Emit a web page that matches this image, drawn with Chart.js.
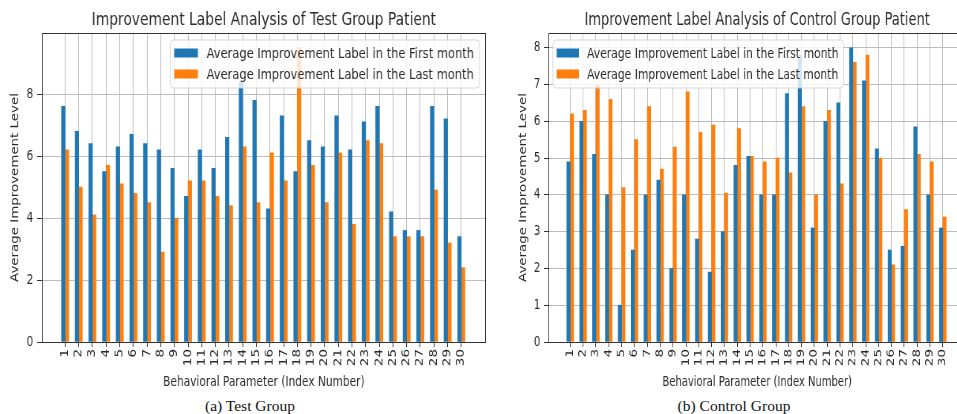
<!DOCTYPE html>
<html>
<head>
<meta charset="utf-8">
<script src="https://cdn.jsdelivr.net/npm/chart.js@4"></script>
<style>
  body { margin: 0; width: 957px; height: 414px; overflow: hidden; background: #fff; position: relative; }
  .panel { position: absolute; top: 0; width: 633px; height: 395px; transform-origin: 0 0; }
  .caption { position: absolute; top: 397px; font: 15.5px "Liberation Serif", serif; color: #111; transform: translateX(-50%); white-space: nowrap; }
</style>
</head>
<body>
<div class="panel" style="left:0; transform:scaleX(0.79)"><canvas id="testChart"></canvas></div>
<div class="panel" style="left:509px; transform:scaleX(0.743)"><canvas id="controlChart"></canvas></div>
<div class="caption" style="left:250px">(a) Test Group</div>
<div class="caption" style="left:734px">(b) Control Group</div>
<script>
// index numbers of the behavioural parameters
const categories = [1, 2, 3, 4, 5, 6, 7, 8, 9, 10, 11, 12, 13, 14, 15, 16, 17, 18, 19, 20, 21, 22, 23, 24, 25, 26, 27, 28, 29, 30];

// test group
const testFirst = [7.6, 6.8, 6.4, 5.5, 6.3, 6.7, 6.4, 6.2, 5.6, 4.7, 6.2, 5.6, 6.6, 8.4, 7.8, 4.3, 7.3, 5.5, 6.5, 6.3, 7.3, 6.2, 7.1, 7.6, 4.2, 3.6, 3.6, 7.6, 7.2, 3.4];
const testLast = [6.2, 5.0, 4.1, 5.7, 5.1, 4.8, 4.5, 2.9, 4.0, 5.2, 5.2, 4.7, 4.4, 6.3, 4.5, 6.1, 5.2, 9.5, 5.7, 4.5, 6.1, 3.8, 6.5, 6.4, 3.4, 3.4, 3.4, 4.9, 3.2, 2.4];

// control group
const controlFirst = [4.9, 6.0, 5.1, 4.0, 1.0, 2.5, 4.0, 4.4, 2.0, 4.0, 2.8, 1.9, 3.0, 4.8, 5.05, 4.0, 4.0, 6.75, 7.8, 3.1, 6.0, 6.5, 8.0, 7.1, 5.25, 2.5, 2.6, 5.85, 4.0, 3.1];
const controlLast = [6.2, 6.3, 7.0, 6.6, 4.2, 5.5, 6.4, 4.7, 5.3, 6.8, 5.7, 5.9, 4.05, 5.8, 5.05, 4.9, 5.0, 4.6, 6.4, 4.0, 6.3, 4.3, 7.6, 7.8, 5.0, 2.1, 3.6, 5.1, 4.9, 3.4];

// y tick labels
const testYTicks = [0, 2, 4, 6, 8];
const controlYTicks = [0, 1, 2, 3, 4, 5, 6, 7, 8];

const seriesLabels = ['Average Improvement Label in the First month', 'Average Improvement Label in the Last month'];
const seriesColors = ['#1f77b4', '#ff7f0e'];

const FONT = '"DejaVu Sans", sans-serif';
const TEXT = '#2b2b2b';

// title, frame and a matplotlib style legend inside the plot
const decorPlugin = {
    id: 'decor',
    afterDraw(chart, args, opts) {
        const ctx = chart.ctx;
        const ca = chart.chartArea;
        ctx.save();

        // frame
        ctx.strokeStyle = '#333';
        ctx.lineWidth = 1;
        ctx.strokeRect(ca.left + 0.5, ca.top + 0.5, ca.right - ca.left - 1, ca.bottom - ca.top);

        // title
        ctx.fillStyle = TEXT;
        ctx.font = '17.5px ' + FONT;
        ctx.textAlign = 'center';
        ctx.textBaseline = 'middle';
        ctx.fillText(opts.title, (ca.left + ca.right) / 2, 20);

        // legend
        ctx.font = '14.5px ' + FONT;
        const textW = Math.max(...seriesLabels.map(t => ctx.measureText(t).width));
        const boxW = 46 + textW + 7;
        const boxH = 48;
        const bx = opts.side === 'left' ? ca.left + 6 : ca.right - 8 - boxW;
        const by = ca.top + 7;
        ctx.beginPath();
        ctx.roundRect(bx, by, boxW, boxH, 4);
        ctx.fillStyle = 'rgba(255,255,255,0.8)';
        ctx.fill();
        ctx.strokeStyle = 'rgba(204,204,204,0.8)';
        ctx.stroke();
        ctx.textAlign = 'left';
        seriesLabels.forEach((t, i) => {
            const cy = by + 13 + i * 21;
            ctx.fillStyle = seriesColors[i];
            ctx.fillRect(bx + 5, cy - 4.5, 30, 9);
            ctx.fillStyle = TEXT;
            ctx.fillText(t, bx + 46, cy + 1);
        });
        ctx.restore();
    }
};

function makeChart(id, title, first, last, yMax, yTicks, legendSide) {
    const ctx = document.getElementById(id).getContext('2d');
    return new Chart(ctx, {
        type: 'bar',
        data: {
            datasets: [first, last].map((vals, k) => ({
                label: seriesLabels[k],
                data: categories.map((c, i) => ({ x: c, y: vals[i] })),
                backgroundColor: seriesColors[k],
                borderWidth: 0,
                barThickness: 4.6
            }))
        },
        options: {
            responsive: true,
            maintainAspectRatio: false,
            animation: false,
            layout: { padding: { top: 33, right: 18, left: 0, bottom: 0 } },
            plugins: {
                legend: { display: false },
                tooltip: { enabled: false },
                decor: { title: title, side: legendSide }
            },
            scales: {
                x: {
                    type: 'linear',
                    min: -0.7,
                    max: 31.8,
                    offset: false,
                    afterBuildTicks: s => { s.ticks = categories.map(v => ({ value: v })); },
                    afterFit: s => { s.height = 53; },
                    border: { display: false },
                    grid: { color: '#bdbdbd', offset: false, tickLength: 5, tickColor: '#333' },
                    ticks: {
                        minRotation: 90, maxRotation: 90, autoSkip: false, padding: 2,
                        color: TEXT, font: { family: FONT, size: 13.5 },
                        callback: v => String(v)
                    },
                    title: {
                        display: true, text: 'Behavioral Parameter (Index Number)', color: TEXT,
                        font: { family: FONT, size: 13.4 }, padding: { top: 0, bottom: 4 }
                    }
                },
                y: {
                    min: 0,
                    max: yMax,
                    afterBuildTicks: s => { s.ticks = yTicks.map(v => ({ value: v })); },
                    afterFit: s => { s.width = 53; },
                    border: { display: false },
                    grid: { color: '#bdbdbd', tickLength: 6, tickColor: '#333' },
                    ticks: { padding: 5, color: TEXT, font: { family: FONT, size: 13.5 } },
                    title: {
                        display: true, text: 'Average Improvement Level', color: TEXT,
                        font: { family: FONT, size: 13.4 }, padding: { top: 11, bottom: 0 }
                    }
                }
            }
        },
        plugins: [decorPlugin]
    });
}

makeChart('testChart', 'Improvement Label Analysis of Test Group Patient', testFirst, testLast, 9.97, testYTicks, 'right');
makeChart('controlChart', 'Improvement Label Analysis of Control Group Patient', controlFirst, controlLast, 8.4, controlYTicks, 'left');
</script>
</body>
</html>
